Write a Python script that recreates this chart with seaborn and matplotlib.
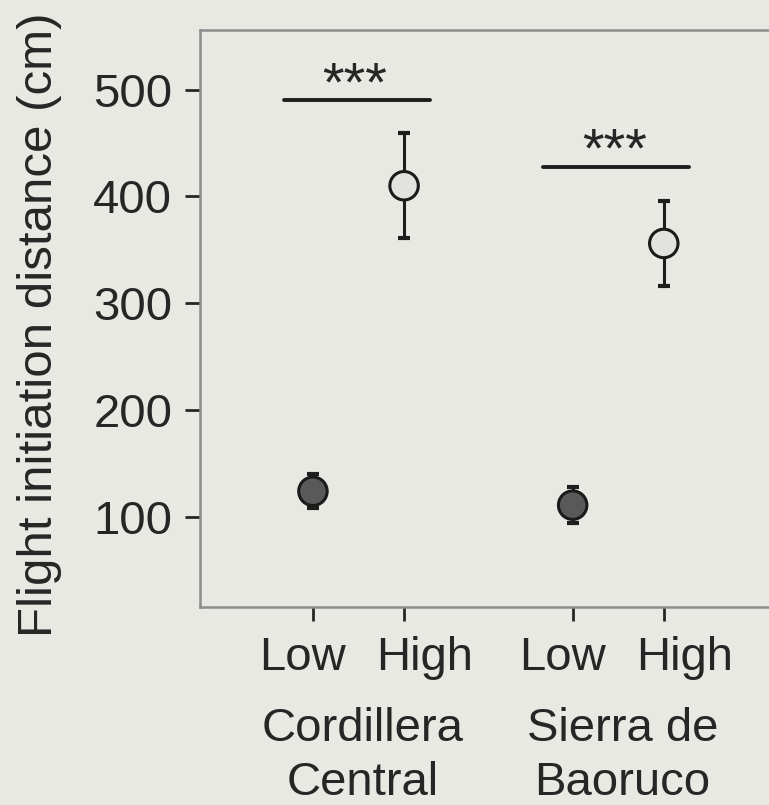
import matplotlib
matplotlib.use('Agg')
import matplotlib.pyplot as plt
import matplotlib.transforms as mtransforms
import seaborn as sns
import pandas as pd

# values (means and error half-widths)
regions = [['Cordillera', 'Central'], ['Sierra de', 'Baoruco']]
levels = ['Low', 'High', 'Low', 'High']
positions = [0, 1, 2.85, 3.85]
means = [124, 410, 111, 356]
errors = [16, 49, 17, 40]
sig_heights = [490, 428]
sig_labels = ['***', '***']

df = pd.DataFrame({'pos': positions, 'level': levels, 'mean': means, 'err': errors})

sns.set_style('ticks')
plt.rcParams['font.family'] = ['Liberation Sans', 'DejaVu Sans']
bg = '#e9e9e4'
ink = '#262626'

fig = plt.figure(figsize=(7.69, 8.05), dpi=100, facecolor=bg)
ax = fig.add_axes([0.260, 0.246, 0.775, 0.717], facecolor=bg)

ax.errorbar(df['pos'], df['mean'], yerr=df['err'], fmt='none', ecolor='#1e1e1e',
            elinewidth=2.2, capsize=4.5, capthick=3, zorder=2)
sns.scatterplot(data=df, x='pos', y='mean', hue='level',
                palette={'Low': '#595959', 'High': '#e2e2de'},
                s=420, edgecolor='#1a1a1a', linewidth=2.2, legend=False, zorder=3, ax=ax)

# significance bars
for i, (h, lab) in enumerate(zip(sig_heights, sig_labels)):
    x0 = positions[2 * i]
    ax.plot([x0 - 0.32, x0 + 1.28], [h, h], color='#1e1e1e', lw=2.8)
    ax.text(x0 + 0.46, h, lab, ha='center', va='baseline', fontsize=40, color=ink)

ax.set_xlim(-1.24, 5.3)
ax.set_ylim(15.7, 556)
ax.set_yticks([100, 200, 300, 400, 500])
ax.set_xticks(positions)
ax.set_xticklabels([''] * 4)
ax.tick_params(axis='both', labelsize=34, colors=ink, length=11, width=2, pad=9)
ax.tick_params(axis='x', length=10)
ax.set_xlabel('')
ax.set_ylabel('Flight initiation distance (cm)', fontsize=35.5, color=ink)
ax.yaxis.set_label_coords(-0.2315, 0.489)

for s in ax.spines.values():
    s.set_color('#8c8c8c')
    s.set_linewidth(1.8)

xtr = ax.get_xaxis_transform()
# level labels sit slightly spread apart from the ticks
for p, lab in zip(positions, levels):
    dx = -10 if lab == 'Low' else 21
    off = mtransforms.offset_copy(xtr, fig=fig, x=dx, y=0, units='dots')
    ax.text(p, -0.109, lab, transform=off, ha='center', va='baseline',
            fontsize=34, color=ink)

for i, lines in enumerate(regions):
    xc = (positions[2 * i] + positions[2 * i + 1]) / 2
    off = mtransforms.offset_copy(xtr, fig=fig, x=4, y=0, units='dots')
    ax.text(xc, -0.233, lines[0], transform=off, ha='center', va='baseline',
            fontsize=34, color=ink)
    ax.text(xc, -0.325, lines[1], transform=off, ha='center', va='baseline',
            fontsize=34, color=ink)

fig.savefig('out.png', dpi=100, facecolor=bg)
